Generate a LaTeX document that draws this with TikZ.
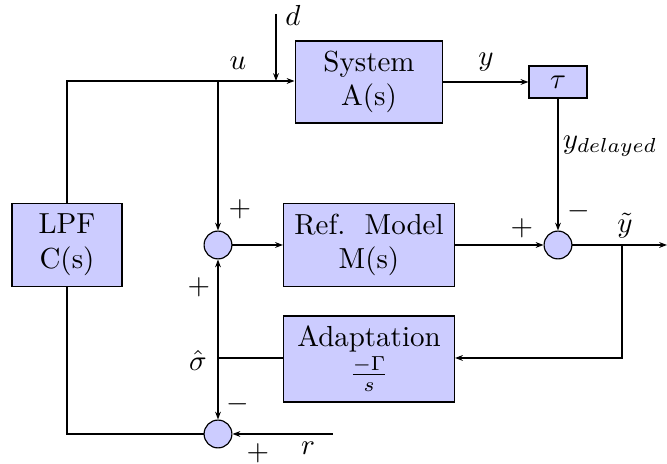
\documentclass[tikz,border=0pt]{standalone}
\usetikzlibrary{arrows.meta}
\begin{document}
\begin{tikzpicture}[x=0.345pt,y=-0.345pt,>={Stealth[length=2.7pt,width=2pt]},
  blockbox/.style={draw, fill=blue!20, inner sep=0pt, align=center},
  sumnode/.style={draw, circle, fill=blue!20, inner sep=0pt, minimum size=9.6pt},
  lbl/.style={inner sep=0pt}]
\useasboundingbox (0,0) rectangle (667,464);
\node[blockbox, minimum width=51pt, minimum height=28.3pt] (sys) at (369,82) {System\\A(s)};
\node[blockbox, minimum width=20pt, minimum height=11pt] (tau) at (558,82) {$\tau$};
\node[blockbox, minimum width=38pt, minimum height=28.6pt] (lpf) at (67,245) {LPF\\C(s)};
\node[blockbox, minimum width=59pt, minimum height=28.6pt] (ref) at (369,245) {Ref.\ \ Model\\M(s)};
\node[blockbox, minimum width=59pt, minimum height=29.7pt] (adp) at (369,359) {Adaptation\\$\frac{-\Gamma}{s}$};
\node[sumnode] (s1) at (218,245) {};
\node[sumnode] (s2) at (558,245) {};
\node[sumnode] (s3) at (218,434) {};
\coordinate (ujn) at (218,81);
\coordinate (ltop) at (67,81);
\coordinate (dtop) at (276,14);
\coordinate (dend) at (276,81);
\coordinate (out) at (667,245);
\coordinate (yjn) at (622,245);
\coordinate (ycorner) at (622,358);
\coordinate (sjn) at (218,358);
\coordinate (rin) at (333,434);
\coordinate (lbot) at (67,434);
% connections
\draw[->] (lpf.north) -- (ltop) -- (ltop -| sys.west);
\draw[->] (dtop) -- (dend);
\draw[->] (ujn) -- (s1.north);
\draw[->] (s1.east) -- (ref.west);
\draw[->] (sys.east) -- (tau.west);
\draw[->] (tau.south) -- (s2.north);
\draw[->] (ref.east) -- (s2.west);
\draw[->] (s2.east) -- (out);
\draw[->] (yjn) -- (ycorner) -- (adp.east |- ycorner);
\draw (adp.west |- sjn) -- (sjn);
\draw[->] (sjn) -- (s1.south);
\draw[->] (sjn) -- (s3.north);
\draw[->] (rin) -- (s3.east);
\draw (s3.west) -- (lbot) -- (lpf.south);
% labels
\node[lbl] (ld) at (293,15) {$d$};
\node[lbl] (lu) at (238,63) {$u$};
\node[lbl] (ly) at (486,62) {$y$};
\node[lbl] (lyd) at (610,146) {$y_{delayed}$};
\node[lbl] (p1) at (240,209) {$+$};
\node[lbl] (p2) at (522,228) {$+$};
\node[lbl] (m1) at (579,211) {$-$};
\node[lbl] (lyt) at (625,226) {$\tilde{y}$};
\node[lbl] (p3) at (199,287) {$+$};
\node[lbl] (lsig) at (198,360) {$\hat{\sigma}$};
\node[lbl] (m2) at (238,404) {$-$};
\node[lbl] (p4) at (258,453) {$+$};
\node[lbl] (lr) at (308,448) {$r$};
\end{tikzpicture}
\end{document}
